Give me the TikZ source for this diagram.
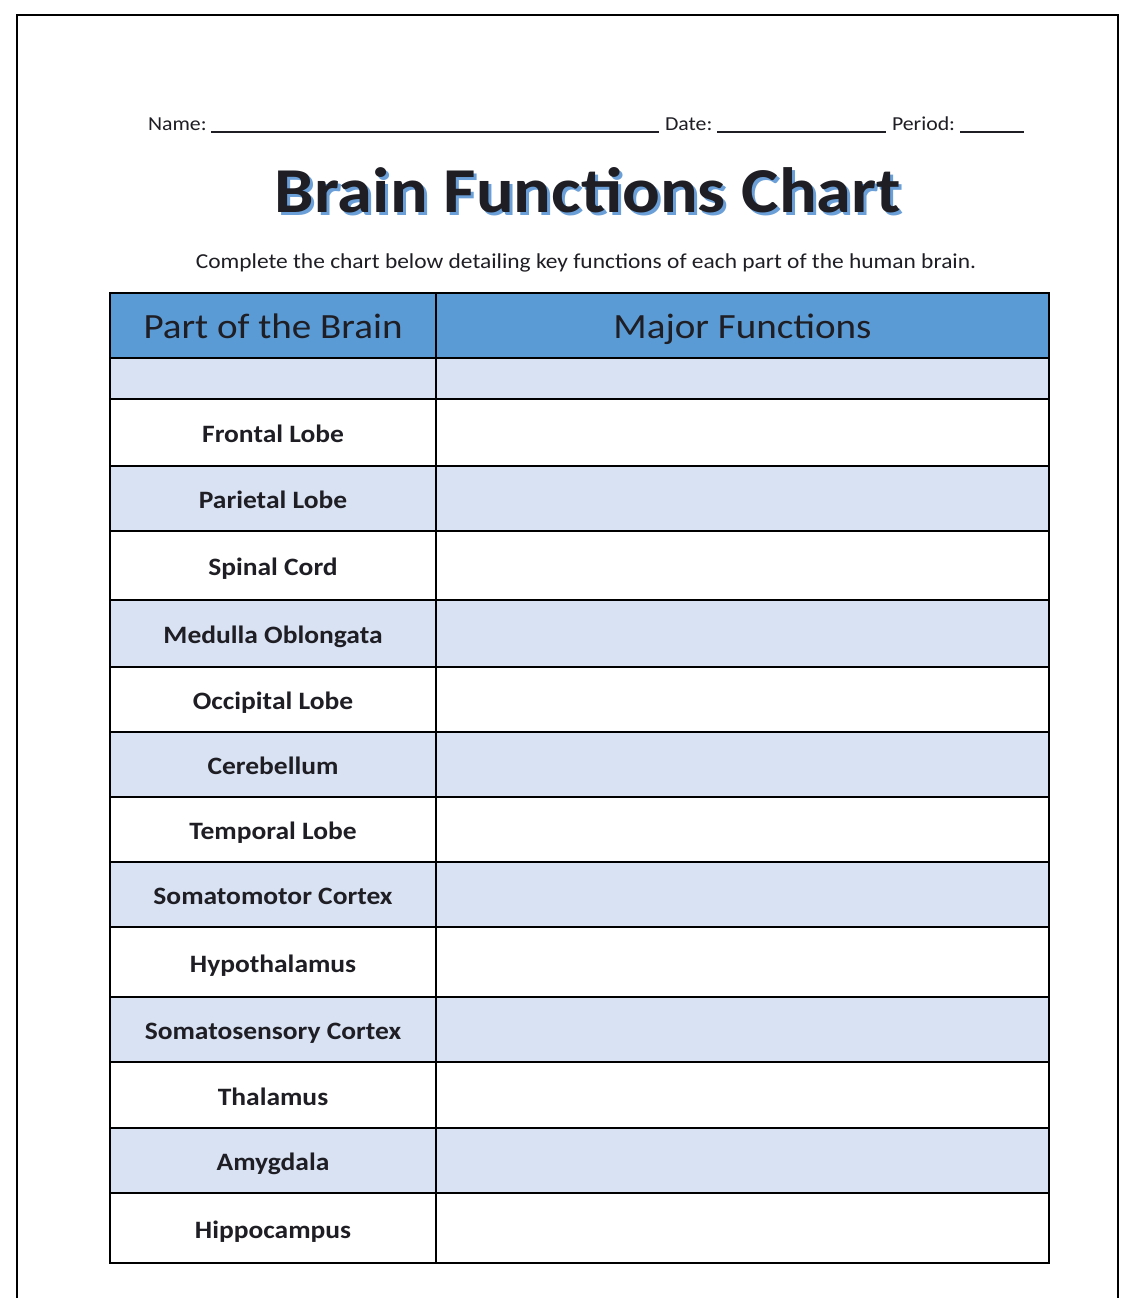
\documentclass[tikz,border=0pt]{standalone}
\usepackage{fontspec}
\setmainfont[FakeStretch=1.1]{Carlito}
\definecolor{hdrblue}{HTML}{5B9BD5}
\definecolor{liteblue}{HTML}{D9E2F3}
\definecolor{shadowblue}{HTML}{6A9FD8}
\definecolor{inkdark}{HTML}{1E1E24}
\begin{document}
\begin{tikzpicture}[x=1pt,y=-1pt,
  every node/.style={inner sep=0pt,outer sep=0pt,text=inkdark},
  lbl/.style={font=\fontsize{19.8}{24}\selectfont,anchor=base west},
  blank/.style={line width=1.6pt,draw=inkdark},
  cell/.style={draw=black,line width=1.6pt,minimum width=326pt,font=\fontsize{25}{28}\selectfont\bfseries,text height=21pt,text depth=1pt},
  fcell/.style={draw=black,line width=1.6pt,minimum width=613pt},
  hcell/.style={draw=black,line width=1.6pt,fill=hdrblue,font=\fontsize{35.5}{38}\selectfont,minimum height=65pt,text height=29pt,text depth=3pt},
  lite/.style={fill=liteblue},
  white/.style={fill=white}]
\useasboundingbox (0,0) rectangle (1140,1298);
\fill[white] (0,0) rectangle (1140,1298);
% page frame
\draw[line width=2pt,black] (17,1298) -- (17,15) -- (1118,15) -- (1118,1298);
% header line
\node[lbl] (name) at (148,130) {Name:};
\node[lbl] (date) at (665,130) {Date:};
\node[lbl] (period) at (892,130) {Period:};
\coordinate (n1) at (211,132); \coordinate (n2) at (659,132);
\coordinate (d1) at (717,132); \coordinate (d2) at (886,132);
\coordinate (p1) at (960,132); \coordinate (p2) at (1024,132);
\draw[blank] (n1) -- (n2);
\draw[blank] (d1) -- (d2);
\draw[blank] (p1) -- (p2);
% title with blue drop shadow
\node[font=\fontsize{64}{70}\selectfont\bfseries,text=inkdark,anchor=base] (title) at (588,212)
  {\makebox[0pt][l]{\raisebox{-3pt}{\hspace{3pt}\color{shadowblue}Brain Functions Chart}}Brain Functions Chart};
\node[font=\fontsize{21.3}{24}\selectfont,anchor=base] (sub) at (586,268) {Complete the chart below detailing key functions of each part of the human brain.};
% table header
\node[hcell,minimum width=326pt] (h1) at (273,325.5) {Part of the Brain};
\node[hcell,minimum width=613pt] (h2) at (742.5,325.5) {Major Functions};
% rows
\node[cell,lite,minimum height=41pt] (r0) at (273,378.5) {};
\node[fcell,lite,minimum height=41pt] (f0) at (742.5,378.5) {};
\node[cell,white,minimum height=67pt] (r1) at (273,432.5) {Frontal Lobe};
\node[fcell,white,minimum height=67pt] (f1) at (742.5,432.5) {};
\node[cell,lite,minimum height=65pt] (r2) at (273,498.5) {Parietal Lobe};
\node[fcell,lite,minimum height=65pt] (f2) at (742.5,498.5) {};
\node[cell,white,minimum height=69pt] (r3) at (273,565.5) {Spinal Cord};
\node[fcell,white,minimum height=69pt] (f3) at (742.5,565.5) {};
\node[cell,lite,minimum height=67pt] (r4) at (273,633.5) {Medulla Oblongata};
\node[fcell,lite,minimum height=67pt] (f4) at (742.5,633.5) {};
\node[cell,white,minimum height=65pt] (r5) at (273,699.5) {Occipital Lobe};
\node[fcell,white,minimum height=65pt] (f5) at (742.5,699.5) {};
\node[cell,lite,minimum height=65pt] (r6) at (273,764.5) {Cerebellum};
\node[fcell,lite,minimum height=65pt] (f6) at (742.5,764.5) {};
\node[cell,white,minimum height=65pt] (r7) at (273,829.5) {Temporal Lobe};
\node[fcell,white,minimum height=65pt] (f7) at (742.5,829.5) {};
\node[cell,lite,minimum height=65pt] (r8) at (273,894.5) {Somatomotor Cortex};
\node[fcell,lite,minimum height=65pt] (f8) at (742.5,894.5) {};
\node[cell,white,minimum height=70pt] (r9) at (273,962) {Hypothalamus};
\node[fcell,white,minimum height=70pt] (f9) at (742.5,962) {};
\node[cell,lite,minimum height=65pt] (r10) at (273,1029.5) {Somatosensory Cortex};
\node[fcell,lite,minimum height=65pt] (f10) at (742.5,1029.5) {};
\node[cell,white,minimum height=66pt] (r11) at (273,1095) {Thalamus};
\node[fcell,white,minimum height=66pt] (f11) at (742.5,1095) {};
\node[cell,lite,minimum height=65pt] (r12) at (273,1160.5) {Amygdala};
\node[fcell,lite,minimum height=65pt] (f12) at (742.5,1160.5) {};
\node[cell,white,minimum height=70pt] (r13) at (273,1228) {Hippocampus};
\node[fcell,white,minimum height=70pt] (f13) at (742.5,1228) {};
\end{tikzpicture}
\end{document}
